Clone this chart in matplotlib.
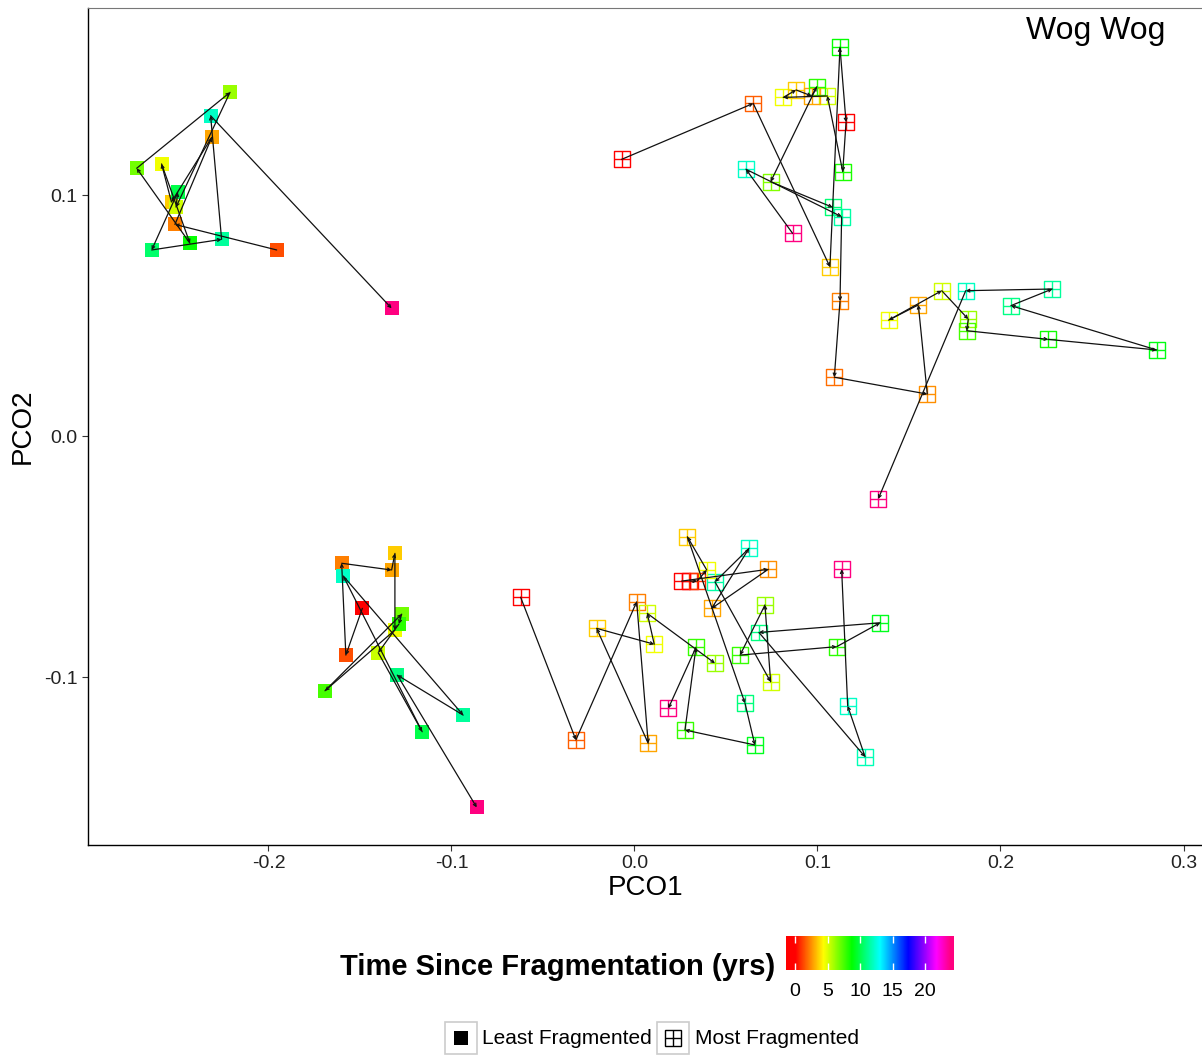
import colorsys
import numpy as np
import matplotlib
matplotlib.use('Agg')
import matplotlib.pyplot as plt
from matplotlib.colors import ListedColormap, Normalize
from matplotlib.patches import Rectangle
from matplotlib.lines import Line2D

plt.rcParams['font.family'] = ['Liberation Sans', 'DejaVu Sans']

# ---- trajectories (PCO1, PCO2, years since fragmentation) ----
# least fragmented, upper cluster
least_a_x = [-0.1955, -0.2511, -0.2310, -0.2530, -0.2584, -0.2429, -0.2720,
             -0.2210, -0.2505, -0.2496, -0.2638, -0.2256, -0.2316, -0.1327]
least_a_y = [0.0772, 0.0878, 0.1239, 0.0971, 0.1129, 0.0800, 0.1111,
             0.1426, 0.0950, 0.1011, 0.0772, 0.0816, 0.1329, 0.0530]
least_a_t = [1.4, 2.2, 2.9, 3.5, 4.6, 8.7, 6.8, 6.1, 5.2, 10, 10.5, 11.4, 12.1, 24]

# least fragmented, lower cluster
least_b_x = [-0.1487, -0.1577, -0.1600, -0.1327, -0.1309, -0.1309, -0.1691, -0.1272,
             -0.1287, -0.1400, -0.1160, -0.1591, -0.0936, -0.1296, -0.0862]
least_b_y = [-0.0715, -0.0909, -0.0528, -0.0556, -0.0487, -0.0805, -0.1057, -0.0739,
             -0.0780, -0.0899, -0.1227, -0.0581, -0.1158, -0.0992, -0.1541]
least_b_t = [0, 1.4, 2.2, 2.9, 3.5, 4.6, 7.5, 6.8, 8, 5.3, 10, 12.1, 11.4, 10.9, 24]

# most fragmented, upper cluster
most_a_x = [-0.0070, 0.0649, 0.1068, 0.1123, 0.1156, 0.1138, 0.1054, 0.0813,
            0.0883, 0.0968, 0.0996, 0.0744, 0.1083]
most_a_y = [0.1148, 0.1380, 0.0702, 0.1613, 0.1302, 0.1097, 0.1411, 0.1405,
            0.1436, 0.1411, 0.1449, 0.1055, 0.0949]
most_a_t = [0, 1.6, 3.5, 8.7, 0, 8.3, 5.2, 4.6, 3.5, 2.9, 8.0, 6.5, 10.7]

most_b_x = [0.0864, 0.0609, 0.1132, 0.1123, 0.1092, 0.1600, 0.1551, 0.1389, 0.1679,
            0.1824, 0.1815, 0.2261, 0.2854, 0.2057, 0.2283, 0.1810, 0.1332]
most_b_y = [0.0841, 0.1107, 0.0910, 0.0560, 0.0244, 0.0174, 0.0544, 0.0481, 0.0603,
            0.0485, 0.0437, 0.0401, 0.0357, 0.0541, 0.0610, 0.0603, -0.0261]
most_b_t = [24, 12.1, 11.6, 2.2, 1.9, 2.5, 2.9, 4.6, 5.2,
            6.1, 7.5, 8.5, 9.0, 11.0, 11.4, 12.0, 24]

# most fragmented, lower cluster
most_c_x = [-0.0622, -0.0320, 0.0012, 0.0075, -0.0207, 0.0108, 0.0070, 0.0440]
most_c_y = [-0.0669, -0.1261, -0.0688, -0.1275, -0.0798, -0.0864, -0.0736, -0.0943]
most_c_t = [0, 1.6, 2.2, 2.9, 3.5, 4.6, 5.2, 6.1]

most_d_x = [0.0258, 0.0731, 0.0422, 0.0626, 0.0440, 0.0744, 0.0713, 0.0577,
            0.1105, 0.1342, 0.0680, 0.1260, 0.1165, 0.1132]
most_d_y = [-0.0602, -0.0553, -0.0715, -0.0466, -0.0605, -0.1020, -0.0701, -0.0909,
            -0.0874, -0.0775, -0.0815, -0.1331, -0.1120, -0.0553]
most_d_t = [0, 2.5, 2.9, 12.1, 11.6, 5.2, 6.1, 7.8, 8.0, 9.2, 10.9, 11.9, 12.1, 24]

most_e_x = [0.0303, 0.0342, 0.0395, 0.0289, 0.0604, 0.0658, 0.0276, 0.0336, 0.0185]
most_e_y = [-0.0602, -0.0602, -0.0556, -0.0418, -0.1109, -0.1282, -0.1220, -0.0877, -0.1130]
most_e_t = [0, 1.0, 4.6, 3.5, 10.8, 9.2, 7.8, 7.8, 24]

x_ticks = [-0.2, -0.1, 0.0, 0.1, 0.2, 0.3]
x_tick_labels = ['-0.2', '-0.1', '0.0', '0.1', '0.2', '0.3']
y_ticks = [-0.1, 0.0, 0.1]
y_tick_labels = ['-0.1', '0.0', '0.1']
cbar_ticks = [0, 5, 10, 15, 20]

trajectories = [
    (least_a_x, least_a_y, least_a_t, 'least'),
    (least_b_x, least_b_y, least_b_t, 'least'),
    (most_a_x, most_a_y, most_a_t, 'most'),
    (most_b_x, most_b_y, most_b_t, 'most'),
    (most_c_x, most_c_y, most_c_t, 'most'),
    (most_d_x, most_d_y, most_d_t, 'most'),
    (most_e_x, most_e_y, most_e_t, 'most'),
]

# rainbow palette red -> magenta
hues = np.linspace(0, 330 / 360, 256)
cmap = ListedColormap([colorsys.hsv_to_rgb(h, 1, 1) for h in hues])
norm = Normalize(vmin=0, vmax=24, clip=True)

W, H = 1202, 1055
fig = plt.figure(figsize=(W / 100, H / 100), dpi=100)


def fx(px):
    return px / W


def fy(py):
    return 1 - py / H


ax = fig.add_axes([fx(88), fy(845), fx(1204) - fx(88), fy(8) - fy(845)])
ax.set_xlim(-0.2986, 0.3112)
ax.set_ylim(-0.1697, 0.1776)

for xs, ys, ts, kind in trajectories:
    cols = cmap(norm(np.array(ts)))
    if kind == 'least':
        ax.scatter(xs, ys, marker='s', s=100, c=cols, linewidths=0, zorder=2)
    else:
        ax.scatter(xs, ys, marker='s', s=130, facecolors='none', edgecolors=cols,
                   linewidths=1.0, zorder=2)
        ax.scatter(xs, ys, marker='+', s=130, c=cols, linewidths=1.0, zorder=2)
    # one arrow per step along the trajectory
    for i in range(len(xs) - 1):
        ax.annotate('', xy=(xs[i + 1], ys[i + 1]), xytext=(xs[i], ys[i]),
                    arrowprops=dict(arrowstyle='->', color='#111111', lw=0.9,
                                    shrinkA=0, shrinkB=0, mutation_scale=5),
                    zorder=3)

ax.set_xticks(x_ticks)
ax.set_xticklabels(x_tick_labels)
ax.set_yticks(y_ticks)
ax.set_yticklabels(y_tick_labels)
ax.tick_params(labelsize=14, length=4, width=0.8, color='#333333',
               labelcolor='#222222')
ax.set_xlabel('PCO1', fontsize=20, labelpad=2)
ax.set_ylabel('PCO2', fontsize=20, labelpad=6)
for side in ['left', 'bottom']:
    ax.spines[side].set_color('black')
    ax.spines[side].set_linewidth(1.0)
ax.spines['top'].set_color('#777777')
ax.spines['right'].set_visible(False)

ax.text(0.903, 0.973, 'Wog Wog', transform=ax.transAxes, fontsize=23,
        ha='center', va='center')

# colour legend
fig.text(fx(340), fy(967), 'Time Since Fragmentation (yrs)', fontsize=21,
         fontweight='bold', ha='left', va='center')
cax = fig.add_axes([fx(786), fy(970), fx(954) - fx(786), fy(936) - fy(970)])
lo, hi = -1.385, 24.46
grad = np.linspace(lo, hi, 400).reshape(1, -1)
cax.imshow(grad, extent=[lo, hi, 0, 1], aspect='auto', cmap=cmap, norm=norm)
cax.set_xlim(lo, hi)
cax.set_ylim(0, 1)
cax.set_yticks([])
cax.set_xticks(cbar_ticks)
cax.set_xticklabels([str(v) for v in cbar_ticks])
cax.tick_params(axis='x', direction='in', color='white', length=5, width=1,
                top=True, bottom=True, labelsize=14, pad=9)
for s in cax.spines.values():
    s.set_visible(False)

# shape legend
for kx, label, lx in [(445, 'Least Fragmented', 482), (657, 'Most Fragmented', 695)]:
    fig.add_artist(Rectangle((fx(kx), fy(1054)), fx(32), 32 / H,
                             transform=fig.transFigure, facecolor='white',
                             edgecolor='#cccccc', lw=1.2))
    fig.text(fx(lx), fy(1039), label, fontsize=15, ha='left', va='center')
fig.add_artist(Line2D([fx(461)], [fy(1038)], marker='s', ms=10, color='black',
                      mew=0, transform=fig.transFigure))
fig.add_artist(Line2D([fx(673)], [fy(1038)], marker='s', ms=11, mfc='none',
                      mec='black', mew=1.0, transform=fig.transFigure))
fig.add_artist(Line2D([fx(673)], [fy(1038)], marker='+', ms=11, color='black',
                      mew=1.0, transform=fig.transFigure))

fig.savefig('out.png', dpi=100)
